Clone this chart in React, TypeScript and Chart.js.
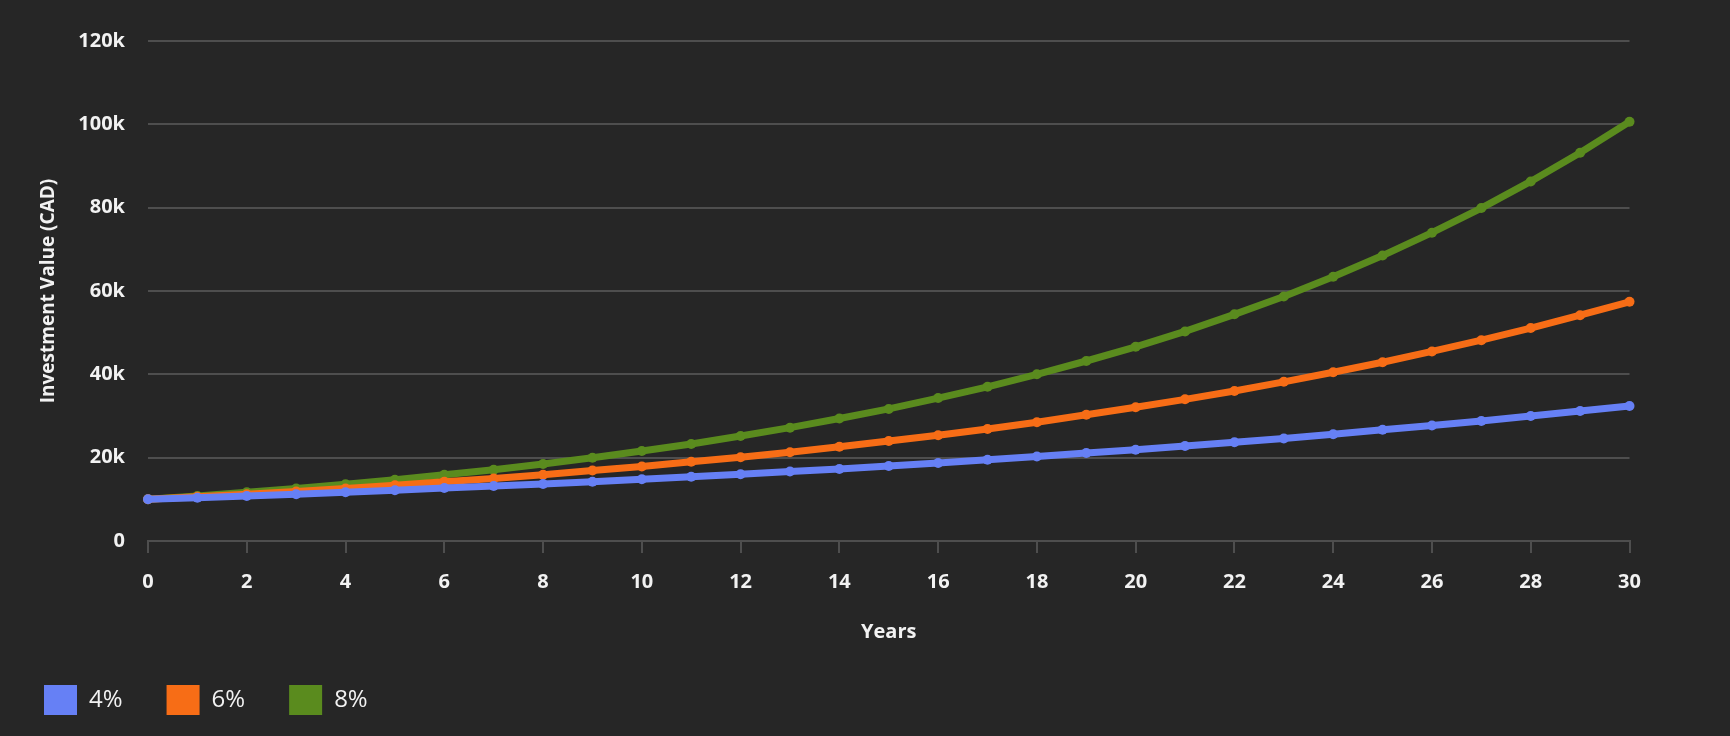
import React, { useEffect, useRef } from "react";
import { Chart, registerables } from "chart.js";

Chart.register(...registerables);

const years = [0,1,2,3,4,5,6,7,8,9,10,11,12,13,14,15,16,17,18,19,20,21,22,23,24,25,26,27,28,29,30];
const rate4 = [10000,10400,10800,11200,11700,12200,12700,13200,13700,14200,14800,15400,16000,16700,17300,18000,18700,19500,20300,21100,21900,22800,23700,24600,25600,26700,27700,28800,30000,31200,32400];
const rate6 = [10000,10600,11200,11900,12600,13400,14200,15000,15900,16900,17900,19000,20100,21300,22600,24000,25400,26900,28500,30300,32100,34000,36000,38200,40500,42900,45500,48200,51100,54200,57400];
const rate8 = [10000,10800,11700,12600,13600,14700,15900,17100,18500,20000,21600,23300,25200,27200,29400,31700,34300,37000,40000,43200,46600,50300,54400,58700,63400,68500,74000,79900,86300,93200,100600];
const seriesLabels = ["4%", "6%", "8%"];
const seriesColors = ["#6680f5", "#f76d16", "#5a8b1e"];
const yTicks = [0, 20000, 40000, 60000, 80000, 100000, 120000];

const BG = "#262626";
const TEXT = "#f2f2f2";
const GRID = "#4e4e4e";

export default function App() {
  const ref = useRef<HTMLCanvasElement | null>(null);
  useEffect(() => {
    document.body.style.margin = "0";
    document.body.style.background = BG;
    const canvas = ref.current!;
    const series = [rate4, rate6, rate8];
    const defaultGen = (Chart.defaults as any).plugins.legend.labels.generateLabels;
    const chart = new Chart(canvas, {
      type: "line",
      data: {
        datasets: series.map((vals, i) => ({
          label: seriesLabels[i],
          data: years.map((x, j) => ({ x, y: vals[j] })),
          borderColor: seriesColors[i],
          backgroundColor: seriesColors[i],
          pointBackgroundColor: seriesColors[i],
          pointBorderColor: seriesColors[i],
          borderWidth: 7,
          pointRadius: 5,
          pointBorderWidth: 0,
          tension: 0,
          clip: false as any,
        })),
      },
      options: {
        animation: false,
        responsive: false,
        maintainAspectRatio: false,
        layout: { padding: { left: 0, top: 41, right: 100.5, bottom: 11 } },
        plugins: {
          tooltip: { enabled: false },
          legend: {
            display: true,
            position: "bottom",
            align: "start",
            labels: {
              boxWidth: 33,
              boxHeight: 30,
              padding: 44,
              color: TEXT,
              font: { family: "'Open Sans', sans-serif", size: 24, weight: "normal" },
              generateLabels: (c: any) =>
                defaultGen(c).map((l: any) => ({ ...l, lineWidth: 0, strokeStyle: "transparent" })),
            },
          },
        },
        scales: {
          x: {
            type: "linear",
            min: 0,
            max: 30,
            afterFit: (s: any) => { s.height = 100; },
            ticks: {
              stepSize: 2,
              padding: 17,
              color: TEXT,
              maxRotation: 0,
              font: { family: "'Open Sans', sans-serif", size: 20, weight: "bold" },
            },
            grid: {
              display: true,
              drawOnChartArea: false,
              drawTicks: true,
              tickLength: 12,
              color: GRID,
              lineWidth: 2,
            },
            border: { display: true, color: GRID, width: 2 },
            title: {
              display: true,
              text: "Years",
              color: TEXT,
              padding: { top: 0, bottom: -3 },
              font: { family: "'Open Sans', sans-serif", size: 20, weight: "bold" },
            },
          },
          y: {
            type: "linear",
            min: 0,
            max: 120000,
            afterFit: (s: any) => { s.width = 148; },
            afterBuildTicks: (s: any) => { s.ticks = yTicks.map((v) => ({ value: v })); },
            ticks: {
              padding: 23,
              color: TEXT,
              font: { family: "'Open Sans', sans-serif", size: 20, weight: "bold" },
              callback: (v: any) => (Number(v) === 0 ? "0" : Number(v) / 1000 + "k"),
            },
            grid: { color: GRID, lineWidth: 2, drawTicks: false },
            border: { display: false },
            title: {
              display: true,
              text: "Investment Value (CAD)",
              color: TEXT,
              padding: { top: 37, bottom: 0 },
              font: { family: "'Open Sans', sans-serif", size: 19, weight: "bold" },
            },
          },
        },
      },
    });
    return () => chart.destroy();
  }, []);
  return (
    <div style={{ width: 1730, height: 736, background: BG, overflow: "hidden" }}>
      <canvas ref={ref} width={1730} height={736} style={{ display: "block" }} />
    </div>
  );
}
